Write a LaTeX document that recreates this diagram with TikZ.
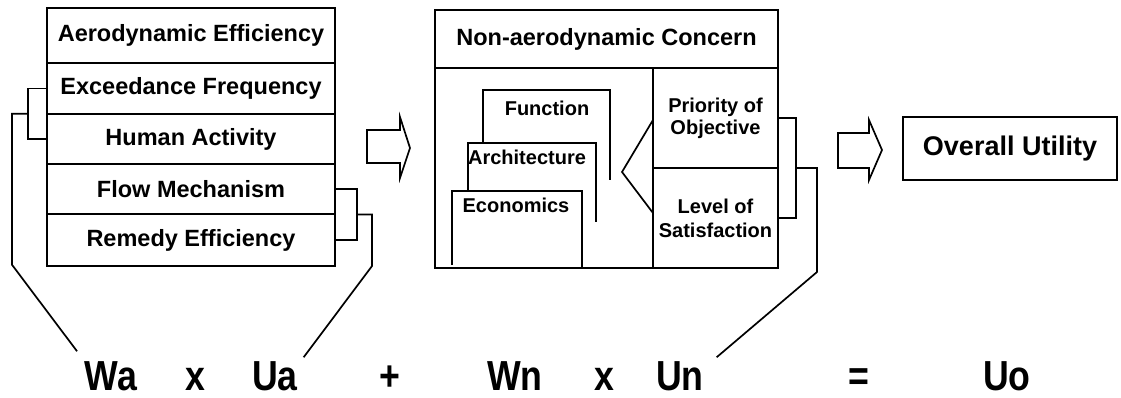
\documentclass[tikz,border=0pt]{standalone}
\usepackage{fontspec}
\setmainfont{Liberation Sans}
\newfontfamily\eqfont[FakeStretch=0.85]{Liberation Sans}
\usetikzlibrary{calc}
\begin{document}
\begin{tikzpicture}[x=1pt, y=-1pt, line width=1.7pt, line join=miter,
  cell/.style={draw, inner sep=0pt, outer sep=0pt, font=\bfseries\fontsize{23.5}{26}\selectfont},
  frame/.style={draw, inner sep=0pt, outer sep=0pt},
  small/.style={inner sep=0pt, align=center, font=\bfseries\fontsize{20}{22}\selectfont},
  term/.style={inner sep=0pt, anchor=base, font=\eqfont\bfseries\fontsize{42}{45}\selectfont}]
\useasboundingbox (0,0) rectangle (1121,397);

% aerodynamic stack
\node[cell, minimum width=288pt, minimum height=55pt] (aero) at (191,35.5) {Aerodynamic Efficiency};
\node[cell, minimum width=288pt, minimum height=51pt] (exc)  at (191,88.5) {Exceedance Frequency};
\node[cell, minimum width=288pt, minimum height=50pt] (hum)  at (191,139)  {Human Activity};
\node[cell, minimum width=288pt, minimum height=50pt] (flow) at (191,189)  {Flow Mechanism};
\node[cell, minimum width=288pt, minimum height=52pt] (rem)  at (191,240)  {Remedy Efficiency};

% equation
\node[term] (wa)   at (111,390)  {Wa};
\node[term] (x1)   at (195,390)  {x};
\node[term] (ua)   at (275,390)  {Ua};
\node[term] (plus) at (390,390)  {+};
\node[term] (wn)   at (515,390)  {Wn};
\node[term] (x2)   at (604,390)  {x};
\node[term] (un)   at (680,390)  {Un};
\node[term] (eqs)  at (859,390)  {=};
\node[term] (uo)   at (1007,390) {Uo};

% brackets of the aerodynamic stack
\draw (exc.west) -- ++(-19,0) |- (hum.west);
\coordinate (lbj) at ($(exc.west)!0.5!(hum.west)+(-19,0)$);
\draw (lbj) -- ++(-16,0) -- ++(0,151) -- ($(wa.north west)+(-7,-9)$);
\draw (flow.east) -- ++(22,0) |- (rem.east);
\coordinate (rbj) at ($(flow.east)!0.5!(rem.east)+(22,0)$);
\draw (rbj) -- ++(15,0) -- ++(0,51.5) -- ($(ua.north east)+(5,-3)$);

% first block arrow
\draw (367,130) -- (400,130) -- (400,117) -- (410,148) -- (400,178) -- (400,163) -- (367,163) -- cycle;

% non-aerodynamic block
\node[cell, minimum width=343pt, minimum height=58pt] (nac) at (606.5,39) {Non-aerodynamic Concern};
\node[frame, minimum width=218pt, minimum height=200pt] (sub) at (544,168) {};
\node[frame, small, minimum width=125pt, minimum height=100pt] (pri) at (715.5,118) {Priority of\\Objective};
\node[frame, small, minimum width=125pt, minimum height=100pt, font=\bfseries\fontsize{20}{24}\selectfont] (lev) at (715.5,218) {Level of\\Satisfaction};

% stacked cards
\node[small] (fun) at (547,108) {Function};
\node[small] (arc) at (527,157) {Architecture};
\node[small] (eco) at (516,205) {Economics};
\draw (483,143) |- (610,90) -- (610,180);
\draw (468,191) |- (596,143) -- (596,222);
\draw (452,265) |- (582,191) -- (582,268);

% angle linking the cards to the criteria
\draw ($(pri.west)+(0,2)$) -- (622,172) -- ($(lev.west)+(0,-5)$);

% brackets of the criteria
\draw (pri.east) -- ++(18,0) |- (lev.east);
\coordinate (mbj) at ($(pri.east)!0.5!(lev.east)+(18,0)$);
\draw (mbj) -- ++(21,0) -- ++(0,104) -- ($(un.north east)+(12,-3)$);

% second block arrow
\draw (838,133) -- (869,133) -- (869,120) -- (882,150) -- (869,180) -- (869,168) -- (838,168) -- cycle;

% result
\node[frame, minimum width=214pt, minimum height=63pt, font=\bfseries\fontsize{27}{30}\selectfont] (ou) at (1010,148.5) {Overall Utility};
\end{tikzpicture}
\end{document}
